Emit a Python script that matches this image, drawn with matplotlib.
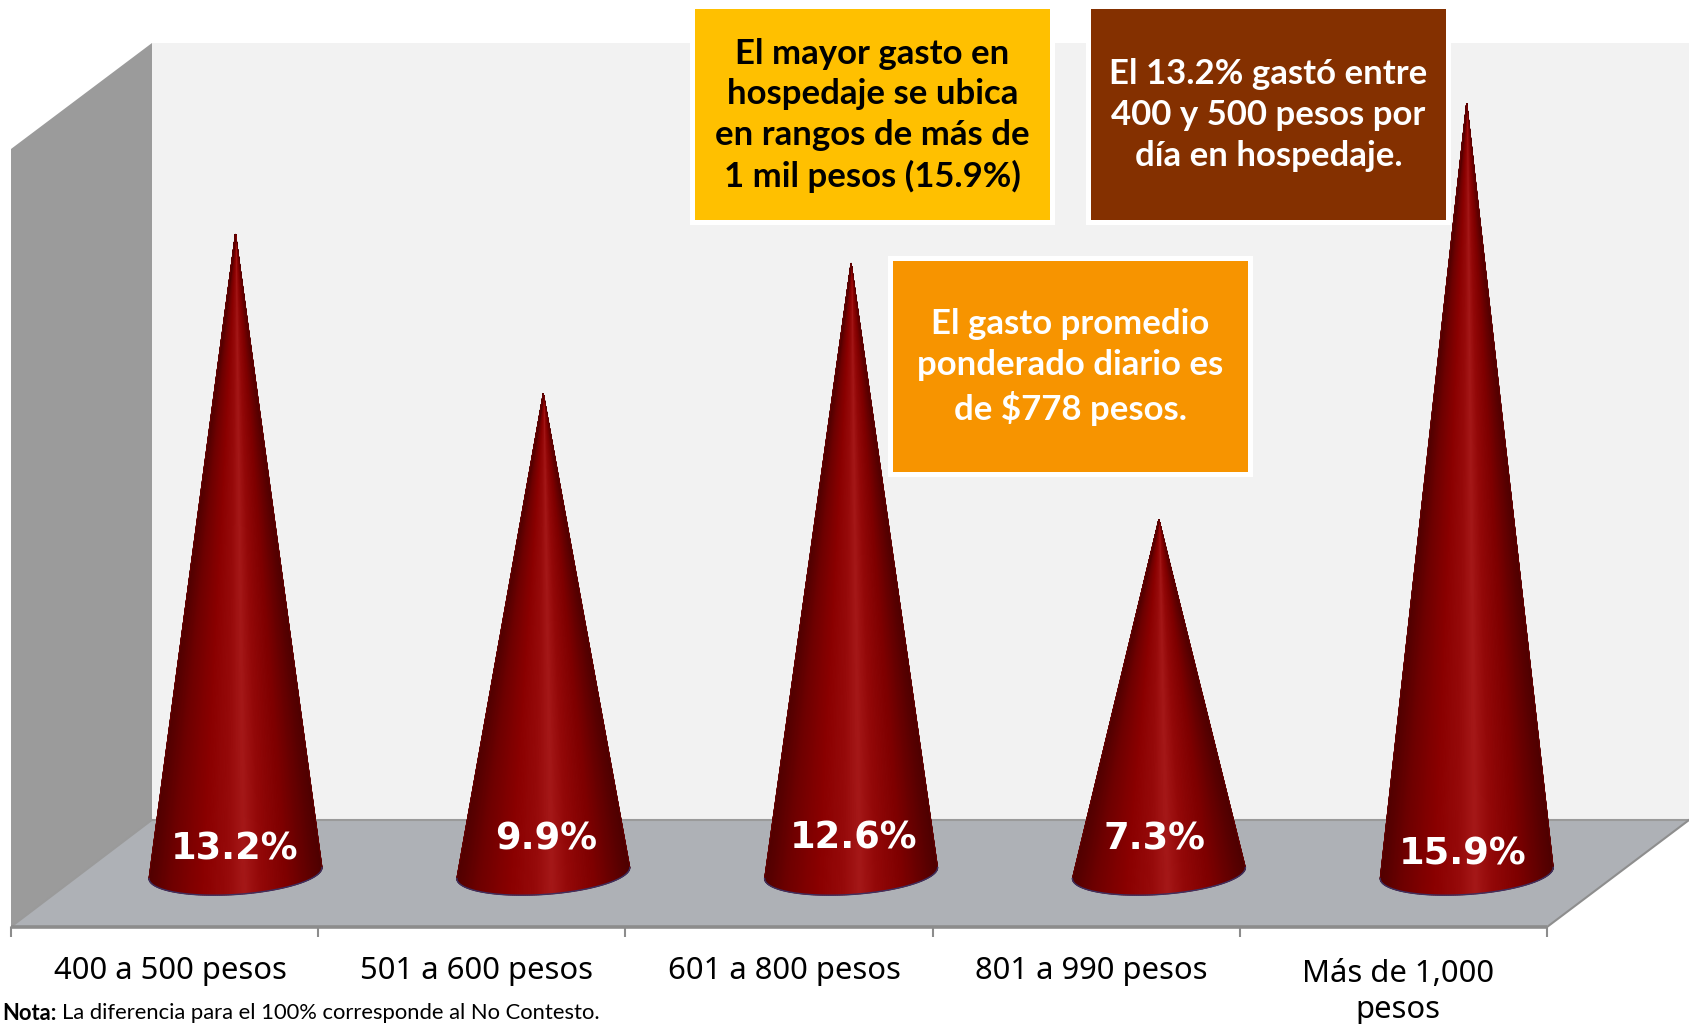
import numpy as np
import matplotlib
matplotlib.use('Agg')
import matplotlib.pyplot as plt
from matplotlib.colors import LinearSegmentedColormap
from matplotlib.patches import Polygon, Rectangle

categories = ['400 a 500 pesos', '501 a 600 pesos', '601 a 800 pesos',
              '801 a 990 pesos', 'Más de 1,000\npesos']
values = [13.2, 9.9, 12.6, 7.3, 15.9]
value_labels = ['13.2%', '9.9%', '12.6%', '7.3%', '15.9%']

note_bold = 'Nota:'
note_text = 'La diferencia para el 100% corresponde al No Contesto.'

box_texts = ['El mayor gasto en\nhospedaje se ubica\nen rangos de más de\n1 mil pesos (15.9%)',
             'El 13.2% gastó entre\n400 y 500 pesos por\ndía en hospedaje.',
             'El gasto promedio\nponderado diario es\nde $778 pesos.']

W, H = 1689, 1024
fig = plt.figure(figsize=(W / 100, H / 100), dpi=100, facecolor='white')

# Background axes works in image pixels
bg = fig.add_axes([0, 0, 1, 1], zorder=0)
bg.set_xlim(0, W)
bg.set_ylim(H, 0)
bg.axis('off')

bg.add_patch(Polygon([(152, 43), (W, 43), (W, 820), (152, 820)], fc='#F2F2F2', ec='none'))
bg.add_patch(Polygon([(11, 149), (152, 43), (152, 820), (11, 927)], fc='#9B9B9B', ec='none'))
bg.add_patch(Polygon([(11, 927), (152, 820), (W, 820), (1547, 927)], fc='#AEB1B6', ec='none'))
bg.plot([152, W], [820, 820], color='#9A9A9A', lw=1.5)
bg.plot([11, 152], [927, 820], color='#9A9A9A', lw=1.2)
bg.plot([1547, W], [927, 820], color='#8E8E8E', lw=1.5)
bg.plot([11, 1547], [927, 927], color='#8C8C8C', lw=2.6, solid_capstyle='butt')

for k in range(len(categories) + 1):
    tx = 11 + 307.2 * k
    bg.plot([tx, tx], [927, 937], color='#8C8C8C', lw=1.5, solid_capstyle='butt')

# Text boxes
boxes = [(695, 9, '#FFC000', 'black', 54),
         (1091, 9, '#843000', 'white', 74),
         (893, 261, '#F79400', 'white', 326)]
for (x0, y0, col, tcol, ty), txt in zip(boxes, box_texts):
    bg.add_patch(Rectangle((x0 - 5, y0 - 5), 365, 221, fc='white', ec='none', zorder=3))
    bg.add_patch(Rectangle((x0, y0), 355, 211, fc=col, ec='none', zorder=4))
    n = txt.count('\n')
    bg.text(x0 + 177.5, ty + n * 20.5, txt, ha='center', va='center', color=tcol,
            family='Lato', weight='bold', fontsize=25.0, linespacing=1.335, zorder=5)

# Category labels and note
for i, c in enumerate(categories):
    tx = 170 + 307 * i
    ty = 971 if '\n' not in c else 992
    bg.text(tx, ty, c, ha='center', va='center', color='black', family='Noto Sans',
            fontsize=22.3, linespacing=1.3)

bg.text(2, 1013, note_bold, ha='left', va='center', family='Lato', weight='bold', fontsize=15.8)
bg.text(62, 1013, note_text, ha='left', va='center', family='Lato', fontsize=15.8)

# Chart axes: x is category position, y is percent
ax = fig.add_axes([0, 0, 1, 1], zorder=1)
ax.patch.set_alpha(0)
ax.axis('off')
x_step = 307.8
y_step = 48.4

shade = LinearSegmentedColormap.from_list('cone', [
    (0.0, '#520000'), (0.12, '#6E0000'), (0.3, '#8A0000'), (0.45, '#960A0A'),
    (0.55, '#A51818'), (0.65, '#930808'), (0.8, '#7E0000'), (1.0, '#4E0000')])

half_w = 86.5 / x_step
tilt = 5.5 / y_step
depth = 21.5 / y_step
label_dx = [-1, 3, 2, -4, -4]
label_px = [849, 839, 838, 839, 854]

for i, v in enumerate(values):
    t = np.linspace(0, np.pi, 121)
    bx = i + half_w * np.cos(t)
    by = tilt * np.cos(t) - depth * np.sin(t)
    r = np.linspace(0, 1, 2)[:, None]
    X = i + r * (bx - i)
    Y = v + r * (by - v)
    C = np.tile(0.5 + 0.5 * np.cos(t), (2, 1))
    ax.pcolormesh(X, Y, C, cmap=shade, vmin=0, vmax=1, shading='gouraud', antialiased=True)
    # smooth the jagged sides and the rim
    ax.plot([bx[0], i, bx[-1]], [by[0], v, by[-1]], color='#6A0000', lw=0.6)
    ax.plot(bx, by, color='#3C3060', lw=1.0)
    ax.text(i + label_dx[i] / x_step, (873 - label_px[i]) / y_step, value_labels[i],
            ha='center', va='center', color='white', family='DejaVu Sans', weight='bold',
            fontsize=26.5)

ax.set_xlim(-235.5 / x_step, (W - 235.5) / x_step)
ax.set_ylim((873 - H) / y_step, 873 / y_step)

fig.savefig('out.png', dpi=100, facecolor='white')
